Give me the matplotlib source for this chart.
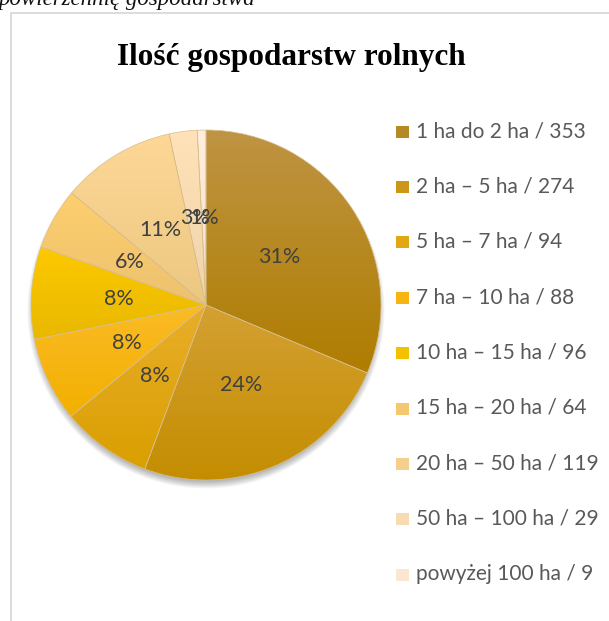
import numpy as np
import matplotlib.pyplot as plt
from matplotlib.patches import Rectangle, Circle
from matplotlib.colors import to_rgb

# data
labels = ["1 ha do 2 ha", "2 ha \u2013 5 ha", "5 ha \u2013 7 ha", "7 ha \u2013 10 ha",
          "10 ha \u2013 15 ha", "15 ha \u2013 20 ha", "20 ha \u2013 50 ha",
          "50 ha \u2013 100 ha", "powy\u017cej 100 ha"]
counts = [353, 274, 94, 88, 96, 64, 119, 29, 9]
pct_labels = [31, 24, 8, 8, 8, 6, 11, 3, 1]   # as printed on the chart
title = "Ilo\u015b\u0107 gospodarstw rolnych"

# gradient ends per slice (top, bottom)
top_colors = ["#BF9443", "#D4A032", "#E9AE2A", "#FBBB25", "#FDC900",
              "#FDCF6E", "#FED797", "#FFE2B8", "#FFEEDC"]
bottom_colors = ["#AF7D00", "#C48D00", "#DA9F00", "#F2B000", "#E9B800",
                 "#EDC170", "#EBC881", "#F0D3A8", "#F3E0C8"]

W, H = 609, 621
fig = plt.figure(figsize=(W / 100, H / 100), dpi=100)

# text cut off from the document above
fig.text(-2 / W, 1 - 5 / H, "powierzchni\u0119 gospodarstwa", family="Liberation Serif",
         style="italic", fontsize=16.5, va="baseline", ha="left", color="#111111")

# chart frame (only top and left visible)
fig.patches.append(Rectangle((10.5 / W, -0.1), 2, 1 - 12.5 / H + 0.1, transform=fig.transFigure,
                             fill=False, edgecolor="#D9D9D9", linewidth=1.3))

fig.text(291 / W, 1 - 57 / H, title, family="Liberation Serif", weight="bold",
         fontsize=22.5, ha="center", va="center", color="#000000")

cx, cy, r = 206, 305, 175
ax = fig.add_axes([(cx - r) / W, (H - cy - r) / H, 2 * r / W, 2 * r / H])

# soft shadow below the pie
for k in range(10):
    ax.add_patch(Circle((0.0, -0.028), 0.98 + 0.0045 * k, color="black", alpha=0.03,
                        zorder=0, clip_on=False, linewidth=0))

wedges, texts = ax.pie(counts, colors=bottom_colors, startangle=90, counterclock=False,
                       wedgeprops=dict(linewidth=0.5, edgecolor="#D9BE8C"), frame=False)
ax.set_xlim(-1, 1)
ax.set_ylim(-1, 1)
ax.axis("off")

# vertical gradient inside each wedge
for w, ct, cb in zip(wedges, top_colors, bottom_colors):
    top = np.array(to_rgb(ct))
    bot = np.array(to_rgb(cb))
    verts = w.get_path().vertices
    x0, y0 = verts.min(axis=0)
    x1, y1 = verts.max(axis=0)
    t = np.linspace(0, 1, 64)[:, None]
    grad = (top[None, :] * (1 - t) + bot[None, :] * t)[:, None, :]
    im = ax.imshow(grad, extent=[x0, x1, y0, y1], origin="upper", aspect="auto", zorder=1.5,
                   interpolation="bilinear")
    im.set_clip_path(w)
    w.set_zorder(1.6)
    w.set_facecolor("none")

# percentage labels at half radius
total = sum(counts)
start = 0
for n, p in zip(counts, pct_labels):
    mid = (start + n / 2) / total * 2 * np.pi
    start += n
    ax.text(0.5 * np.sin(mid), 0.5 * np.cos(mid), "%d%%" % p, family="Lato", fontsize=15.5,
            color="#404040", ha="center", va="center", zorder=3)
ax.set_xlim(-1, 1)
ax.set_ylim(-1, 1)

# legend
for i, (lab, n, ct, cb) in enumerate(zip(labels, counts, top_colors, bottom_colors)):
    y = 131 + i * 55.4
    c = (np.array(to_rgb(ct)) + np.array(to_rgb(cb))) / 2
    fig.patches.append(Rectangle((396 / W, 1 - (y + 6.5) / H), 13 / W, 12 / H,
                                 transform=fig.transFigure, facecolor=c, edgecolor="none"))
    fig.text(416 / W, 1 - y / H, "%s / %d" % (lab, n), family="Lato", fontsize=15,
             color="#595959", va="center", ha="left")

fig.savefig("out.png", dpi=100)
